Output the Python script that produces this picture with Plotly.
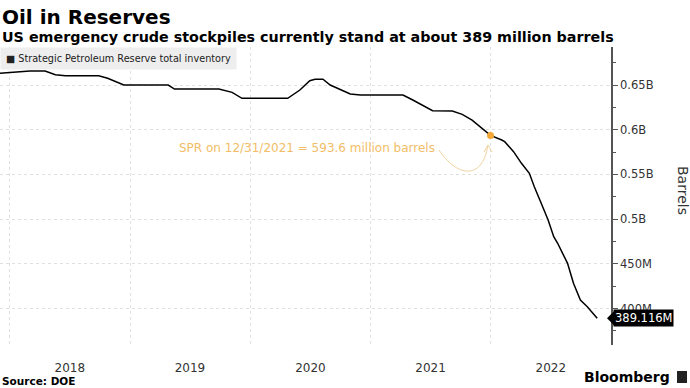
import plotly.graph_objects as go

# ---- data (million barrels) ----
dates = [
    "2017-12-01", "2018-03-03", "2018-04-18", "2018-05-19", "2018-06-19", "2018-09-28",
    "2018-10-25", "2018-11-25", "2018-12-13", "2019-04-27", "2019-05-16", "2019-09-28",
    "2019-11-07", "2019-12-07", "2020-04-24", "2020-05-31", "2020-06-30", "2020-07-16",
    "2020-08-09", "2020-08-31", "2020-10-31", "2020-12-01", "2021-04-09", "2021-05-09",
    "2021-05-18", "2021-06-08", "2021-07-08", "2021-09-06", "2021-10-06", "2021-11-05",
    "2021-12-31", "2022-02-03", "2022-02-12", "2022-03-11", "2022-04-04", "2022-04-28",
    "2022-05-13", "2022-06-03", "2022-06-24", "2022-07-11", "2022-07-23", "2022-08-07",
    "2022-08-22", "2022-09-09", "2022-09-30", "2022-10-21", "2022-11-20",
]
inventory_m = [
    663.1, 665.7, 665.7, 661.5, 660.4, 660.4,
    657.5, 652.6, 650.0, 650.0, 645.5, 645.5,
    641.8, 635.1, 635.1, 644.4, 654.8, 656.4,
    656.4, 650.0, 639.9, 638.8, 638.8, 633.2,
    631.3, 627.6, 621.3, 620.9, 617.2, 610.8,
    593.6, 588.5, 586.6, 575.4, 562.4, 551.2,
    536.2, 517.7, 499.0, 480.3, 473.0, 461.7,
    450.5, 428.2, 409.5, 402.0, 389.116,
]
point_date = "2021-12-31"
point_value_m = 593.6
last_value_m = 389.116

year_labels = ["2018", "2019", "2020", "2021", "2022"]
ytick_vals_m = [400, 450, 500, 550, 600, 650]
ytick_text = ["400M", "450M", "0.5B", "0.55B", "0.6B", "0.65B"]

# ---- layout geometry ----
W, H = 690, 388
L, R, T, B = 0, 79, 47, 43
PW, PH = W - L - R, H - T - B
YMIN, YMAX = 359.2, 692.5


def px(x):
    return (x - L) / PW


def py(y):
    return (H - B - y) / PH


def vy(v):
    return (v - YMIN) / (YMAX - YMIN)


FONT = "DejaVu Sans"
ORANGE_TXT = "#f2bd66"
ORANGE_DOT = "#f5a836"
GRID = "#e0e0e0"

fig = go.Figure()
fig.add_trace(go.Scatter(
    x=dates, y=inventory_m, mode="lines",
    line=dict(color="#000000", width=1.5), showlegend=False, hoverinfo="skip",
))
fig.add_trace(go.Scatter(
    x=[point_date], y=[point_value_m], mode="markers",
    marker=dict(color=ORANGE_DOT, size=7), showlegend=False, hoverinfo="skip",
))

year_mid = [f"{y}-07-02" for y in year_labels]
year_starts = [f"{y}-01-01" for y in year_labels]

fig.update_xaxes(
    type="date", range=["2017-12-02", "2023-01-01"],
    tickvals=year_mid, ticktext=year_labels,
    ticks="outside", ticklen=12, tickcolor="rgba(0,0,0,0)",
    tickfont=dict(family=FONT, size=12, color="#333333"),
    showgrid=False, showline=False, zeroline=False,
    minor=dict(tickvals=year_starts, showgrid=True, gridcolor=GRID,
               griddash="dot", gridwidth=1, ticks=""),
)
fig.update_yaxes(
    side="right", range=[YMIN, YMAX],
    tickvals=ytick_vals_m, ticktext=ytick_text,
    ticks="outside", ticklen=5, tickcolor="#555555",
    tickfont=dict(family=FONT, size=11.5, color="#333333"),
    showgrid=True, gridcolor=GRID, griddash="dot",
    showline=True, linecolor="#555555", linewidth=1.5, zeroline=False,
    minor=dict(dtick=25, ticks="outside", ticklen=3, tickcolor="#555555", showgrid=False),
)

ann = []
ann.append(dict(text="<b>Oil in Reserves</b>", x=0, y=py(17), xref="paper", yref="paper",
                xanchor="left", yanchor="middle", showarrow=False,
                font=dict(family=FONT, size=20, color="#000000")))
ann.append(dict(text="<b>US emergency crude stockpiles currently stand at about 389 million barrels</b>",
                x=0, y=py(37), xref="paper", yref="paper", xanchor="left", yanchor="middle",
                showarrow=False, font=dict(family=FONT, size=14.3, color="#000000")))
ann.append(dict(text="■ Strategic Petroleum Reserve total inventory", x=0, y=1, xref="paper",
                yref="paper", xanchor="left", yanchor="top", showarrow=False,
                bgcolor="#eeeeee", borderpad=5,
                font=dict(family=FONT, size=9.7, color="#222222")))
ann.append(dict(text=f"SPR on 12/31/2021 = {point_value_m} million barrels", x=px(437), y=py(148),
                xref="paper", yref="paper", xanchor="right", yanchor="middle", showarrow=False,
                font=dict(family=FONT, size=12, color=ORANGE_TXT)))
ann.append(dict(text="Barrels", x=px(683), y=py(190), xref="paper", yref="paper",
                xanchor="center", yanchor="middle", textangle=90, showarrow=False,
                font=dict(family=FONT, size=14, color="#333333")))
ann.append(dict(text="<b>Source: DOE</b>", x=0, y=py(381), xref="paper", yref="paper",
                xanchor="left", yanchor="middle", showarrow=False,
                font=dict(family=FONT, size=10.5, color="#000000")))
ann.append(dict(text="<b>Bloomberg</b>", x=px(672), y=py(377), xref="paper", yref="paper",
                xanchor="right", yanchor="middle", showarrow=False,
                font=dict(family=FONT, size=14, color="#000000")))
ann.append(dict(text=f"{last_value_m}M", x=px(613), y=vy(last_value_m), xref="paper", yref="paper",
                xanchor="left", yanchor="middle", showarrow=False, bgcolor="#000000", borderpad=1,
                font=dict(family=FONT, size=11.5, color="#ffffff")))

shapes = []
ty = vy(last_value_m)
dy = 7 / PH
shapes.append(dict(type="path", xref="paper", yref="paper",
                   path=f"M {px(607)},{ty} L {px(614)},{ty + dy} L {px(614)},{ty - dy} Z",
                   fillcolor="#000000", line=dict(width=0)))
shapes.append(dict(type="path", xref="paper", yref="paper",
                   path=(f"M {px(439)},{py(150)} C {px(456)},{py(176)} "
                         f"{px(482)},{py(182)} {px(488)},{py(145)}"),
                   line=dict(color="#efd3a0", width=1)))
shapes.append(dict(type="path", xref="paper", yref="paper",
                   path=(f"M {px(484)},{py(152)} L {px(488)},{py(145)} L {px(492)},{py(152)}"),
                   line=dict(color="#efd3a0", width=1)))
shapes.append(dict(type="rect", xref="paper", yref="paper",
                   x0=px(677), x1=px(687), y0=py(383), y1=py(371),
                   fillcolor="#222222", line=dict(width=0)))

fig.update_layout(
    width=W, height=H, margin=dict(l=L, r=R, t=T, b=B, pad=0),
    paper_bgcolor="#ffffff", plot_bgcolor="#ffffff",
    annotations=ann, shapes=shapes, showlegend=False,
    font=dict(family=FONT),
)

fig.write_html("out.html", config={"displayModeBar": False},
               post_script="document.body.style.margin='0';document.body.style.overflow='hidden';")
